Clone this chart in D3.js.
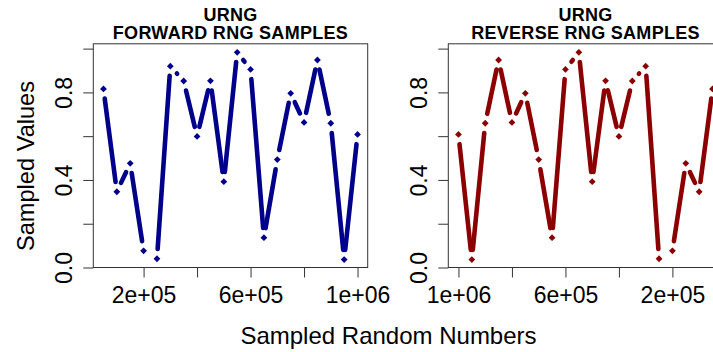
<!DOCTYPE html>
<html>
<head>
<meta charset="utf-8">
<script src="https://cdn.jsdelivr.net/npm/d3@7"></script>
<style>
  html, body { margin: 0; padding: 0; background: #fff; }
  svg { display: block; font-family: "Liberation Sans", Arial, Helvetica, sans-serif; }
</style>
</head>
<body>
<svg id="chart" width="713" height="352"></svg>
<script>
// ---- data ----
const sampleX = [50000, 100000, 150000, 200000, 250000, 300000, 350000, 400000, 450000, 500000,
                 550000, 600000, 650000, 700000, 750000, 800000, 850000, 900000, 950000, 1000000];
const sampleY = [0.816, 0.346, 0.476, 0.076, 0.040, 0.920, 0.852, 0.599, 0.853, 0.392,
                 0.983, 0.905, 0.136, 0.493, 0.796, 0.663, 0.948, 0.659, 0.036, 0.608];
const yTicks = [0, 0.2, 0.4, 0.6, 0.8, 1.0];
const yTickLabels = ["0.0", "", "0.4", "", "0.8", ""];
const xTicks = [200000, 400000, 600000, 800000, 1000000];
const xTickLabels = ["2e+05", "", "6e+05", "", "1e+06"];
const panelTitles = [["URNG", "FORWARD RNG SAMPLES"], ["URNG", "REVERSE RNG SAMPLES"]];
const panelColors = ["#00008B", "#8B0000"];
const xLabel = "Sampled Random Numbers";
const yLabel = "Sampled Values";

(function () {
const svg = d3.select("#chart");
const plotTop = 43.8, plotBottom = 267.5, panelW = 274.4;
const panelLeft = [93.3, 448.3];
const y = d3.scaleLinear().domain([0, 1.022]).range([plotBottom, plotTop]);
const GAP = 9.8;

panelLeft.forEach((left, pi) => {
  const dom = pi === 0 ? [12000, 1038000] : [1038000, 12000];
  const x = d3.scaleLinear().domain(dom).range([left, left + panelW]);
  const g = svg.append("g");

  // y axis
  const ya = g.append("g").attr("transform", `translate(${left},0)`)
    .call(d3.axisLeft(y).tickValues(yTicks).tickSize(10)
      .tickFormat((d, i) => yTickLabels[i]));
  ya.select(".domain").remove();
  ya.selectAll(".tick line").attr("stroke", "#333");
  ya.selectAll(".tick text")
    .attr("x", 0).attr("y", 0).attr("dy", 0)
    .attr("text-anchor", "middle")
    .attr("transform", "translate(-21.5,0) rotate(-90)")
    .attr("font-size", 23).attr("fill", "#000")
    .attr("font-family", "Liberation Sans, Arial, sans-serif");

  // x axis
  const xa = g.append("g").attr("transform", `translate(0,${plotBottom})`)
    .call(d3.axisBottom(x).tickValues(xTicks).tickSize(10)
      .tickFormat((d, i) => xTickLabels[i]));
  xa.select(".domain").remove();
  xa.selectAll(".tick line").attr("stroke", "#333");
  xa.selectAll(".tick text")
    .attr("y", 35.5).attr("dy", 0)
    .attr("font-size", 23).attr("fill", "#000")
    .attr("font-family", "Liberation Sans, Arial, sans-serif");

  // box
  g.append("rect").attr("x", left).attr("y", plotTop)
    .attr("width", panelW).attr("height", plotBottom - plotTop)
    .attr("fill", "none").attr("stroke", "#333").attr("stroke-width", 1);

  // line segments with gaps (type = "b")
  const pts = sampleX.map((v, i) => [x(v), y(sampleY[i])]);
  const segs = [];
  for (let i = 0; i < pts.length - 1; i++) {
    const [x1, y1] = pts[i], [x2, y2] = pts[i + 1];
    const L = Math.hypot(x2 - x1, y2 - y1);
    if (L > 2 * GAP) {
      const ux = (x2 - x1) / L, uy = (y2 - y1) / L;
      segs.push([x1 + ux * GAP, y1 + uy * GAP, x2 - ux * GAP, y2 - uy * GAP]);
    }
  }
  g.selectAll("line.seg").data(segs).enter().append("line")
    .attr("class", "seg")
    .attr("x1", d => d[0]).attr("y1", d => d[1])
    .attr("x2", d => d[2]).attr("y2", d => d[3])
    .attr("stroke", panelColors[pi]).attr("stroke-width", 4.6)
    .attr("stroke-linecap", "round");

  // diamond points
  g.selectAll("path.pt").data(sampleX).enter().append("path")
    .attr("class", "pt")
    .attr("d", d3.symbol(d3.symbolSquare, 23)())
    .attr("transform", (d, i) => `translate(${x(d)},${y(sampleY[i])}) rotate(45)`)
    .attr("fill", panelColors[pi]);

  // titles
  const cx = left + panelW / 2;
  g.append("text").attr("x", cx).attr("y", 20.5).attr("text-anchor", "middle")
    .attr("font-weight", "bold").attr("font-size", 18).attr("letter-spacing", 0.3)
    .text(panelTitles[pi][0]);
  g.append("text").attr("x", cx).attr("y", 39.3).attr("text-anchor", "middle")
    .attr("font-weight", "bold").attr("font-size", 18).attr("letter-spacing", 0.3)
    .text(panelTitles[pi][1]);
});

// axis titles
svg.append("text").attr("x", 388.5).attr("y", 343.5).attr("text-anchor", "middle")
  .attr("font-size", 24).text(xLabel);
svg.append("text").attr("text-anchor", "middle")
  .attr("transform", "translate(34,166) rotate(-90)")
  .attr("font-size", 23.6).text(yLabel);
})();
</script>
</body>
</html>
